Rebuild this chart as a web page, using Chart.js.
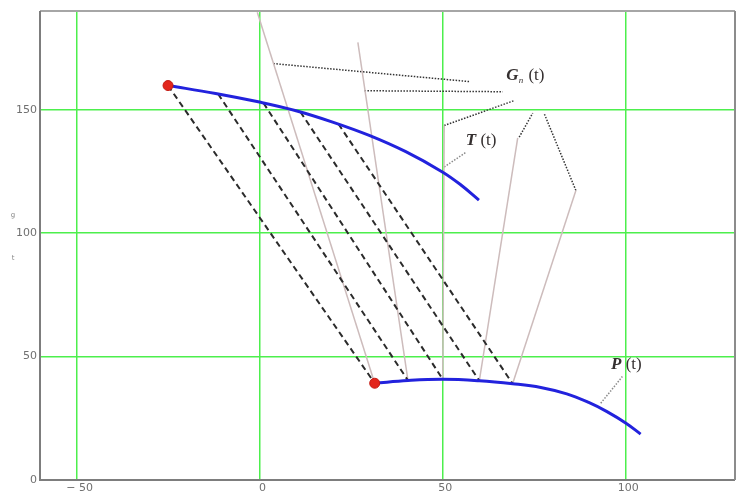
<!DOCTYPE html>
<html><head><meta charset="utf-8">
<script src="https://cdn.jsdelivr.net/npm/chart.js@4"></script>
<style>html,body{margin:0;padding:0;background:#fff}#wrap{width:741px;height:500px}</style>
</head><body><div id="wrap"><canvas id="c" width="741" height="500"></canvas></div>
<script>
// ---- data ----
const X_TICKS = [-50, 0, 50, 100];
const X_TICK_LABELS = ["\u2212 50", "0", "50", "100"];
const Y_TICKS = [0, 50, 100, 150];
const Y_TICK_LABELS = ["0", "50", "100", "150"];

// T(t) curve
const T_X = [-25, -12, 0, 10, 20, 30, 40, 50, 55, 60];
const T_Y = [159.8, 156.6, 153.1, 149.6, 145.0, 139.6, 133.0, 124.8, 119.6, 113.4];
// P(t) curve
const P_X = [31.5, 40.6, 50.1, 60.1, 69.2, 76.9, 84, 90, 95, 100.1, 104.2];
const P_Y = [39.2, 40.3, 40.8, 40.2, 39.0, 37.5, 34.9, 31.4, 27.7, 23.1, 18.6];

// dashed connectors T -> P
const DASH_START_X = [-25, -11.3, 1.1, 11.2, 21.6];
const DASH_START_Y = [159.8, 156.4, 152.7, 149.1, 144.2];
const DASH_END_X = [31.5, 40.6, 50.1, 60.1, 69.2];
const DASH_END_Y = [39.2, 40.3, 40.8, 40.2, 39.0];

// G_n(t) lines (from P points upward)
const G_TOP_X = [-0.6, 26.9, 50.5, 70.6, 86.5];
const G_TOP_Y = [189.5, 177.3, 143.6, 138.6, 117.3];

// dotted leader lines for G_n(t) label
const LG_FROM_X = [3.8, 28.7, 50.5, 71.0, 86.5];
const LG_FROM_Y = [168.7, 157.7, 143.6, 138.9, 117.3];
const LG_TO_X = [57.4, 66.5, 69.6, 74.7, 77.8];
const LG_TO_Y = [161.4, 157.3, 153.7, 148.6, 148.6];
// leaders for T(t) and P(t)
const LT_X = [50.5, 56.5], LT_Y = [126.8, 132.8];
const LP_X = [93.3, 99.2], LP_Y = [31.1, 41.9];

// red start points
const DOT_X = [-25, 31.5];
const DOT_Y = [159.8, 39.2];

// label anchors (centres)
const LABEL_G = [72.7, 163.9];
const LABEL_T = [60.6, 137.6];
const LABEL_P = [100.3, 46.6];

// ---- build ----
const pts = (xs, ys) => xs.map((x, i) => ({x, y: ys[i]}));
const datasets = [];
datasets.push({data: pts(DOT_X, DOT_Y), showLine: false, pointRadius: 5, pointHoverRadius: 5,
  backgroundColor: '#e3261c', borderColor: '#c41a12', borderWidth: 1, order: 0});
datasets.push({data: pts(T_X, T_Y), showLine: true, borderColor: '#2222dd', borderWidth: 3,
  pointRadius: 0, tension: 0.4, order: 1});
datasets.push({data: pts(P_X, P_Y), showLine: true, borderColor: '#2222dd', borderWidth: 3,
  pointRadius: 0, tension: 0.4, order: 1});
for (let i = 0; i < DASH_START_X.length; i++) {
  datasets.push({data: [{x: DASH_START_X[i], y: DASH_START_Y[i]}, {x: DASH_END_X[i], y: DASH_END_Y[i]}],
    showLine: true, borderColor: '#2b2b2b', borderWidth: 2, borderDash: [6, 4], pointRadius: 0, order: 2});
}
for (let i = 0; i < G_TOP_X.length; i++) {
  datasets.push({data: [{x: DASH_END_X[i], y: DASH_END_Y[i]}, {x: G_TOP_X[i], y: G_TOP_Y[i]}],
    showLine: true, borderColor: '#cdbcbc', borderWidth: 1.5, pointRadius: 0, order: 3});
}
for (let i = 0; i < LG_FROM_X.length; i++) {
  datasets.push({data: [{x: LG_FROM_X[i], y: LG_FROM_Y[i]}, {x: LG_TO_X[i], y: LG_TO_Y[i]}],
    showLine: true, borderColor: '#333', borderWidth: 1.5, borderDash: [1.5, 1.5], pointRadius: 0, order: 4});
}
datasets.push({data: pts(LT_X, LT_Y), showLine: true, borderColor: '#8a8a8a', borderWidth: 1.5,
  borderDash: [1.5, 1.5], pointRadius: 0, order: 4});
datasets.push({data: pts(LP_X, LP_Y), showLine: true, borderColor: '#8a8a8a', borderWidth: 1.5,
  borderDash: [1.5, 1.5], pointRadius: 0, order: 4});

const framePlugin = {
  id: 'frame',
  afterDraw(chart) {
    const {ctx, chartArea: a} = chart;
    ctx.save();
    ctx.lineWidth = 2;
    ctx.strokeStyle = '#a6a6a6';
    ctx.beginPath(); ctx.moveTo(a.left, a.top); ctx.lineTo(a.right, a.top); ctx.stroke();
    ctx.strokeStyle = '#7d7d7d';
    ctx.beginPath(); ctx.moveTo(a.left, a.top); ctx.lineTo(a.left, a.bottom); ctx.lineTo(a.right, a.bottom); ctx.stroke();
    ctx.strokeStyle = '#8c8c8c';
    ctx.beginPath(); ctx.moveTo(a.right, a.top); ctx.lineTo(a.right, a.bottom); ctx.stroke();
    // tiny axis names
    ctx.fillStyle = '#8a8a8a';
    ctx.font = '7px "DejaVu Sans"';
    ctx.textAlign = 'center'; ctx.textBaseline = 'middle';
    ctx.fillText('g', 13, 215);
    ctx.fillText('t', 13, 258);
    ctx.restore();
  }
};

function drawLabel(ctx, cx, cy, main, sub) {
  const f1 = 'bold italic 17px "Liberation Serif"';
  const f2 = 'italic 9px "Liberation Serif"';
  const f3 = '17px "Liberation Serif"';
  ctx.font = f1; const w1 = ctx.measureText(main).width;
  ctx.font = f2; const w2 = sub ? ctx.measureText(sub).width + 1 : 0;
  ctx.font = f3; const w3 = ctx.measureText(' (t)').width;
  let x = cx - (w1 + w2 + w3) / 2;
  ctx.textAlign = 'left'; ctx.textBaseline = 'middle';
  ctx.font = f1; ctx.fillText(main, x, cy); x += w1;
  if (sub) { ctx.font = f2; ctx.fillText(sub, x, cy + 5); x += w2; }
  ctx.font = f3; ctx.fillText(' (t)', x, cy);
}

const labelPlugin = {
  id: 'labels',
  afterDatasetsDraw(chart) {
    const {ctx, scales: {x, y}} = chart;
    ctx.save();
    ctx.fillStyle = '#353030';
    drawLabel(ctx, x.getPixelForValue(LABEL_G[0]), y.getPixelForValue(LABEL_G[1]), 'G', 'n');
    drawLabel(ctx, x.getPixelForValue(LABEL_T[0]), y.getPixelForValue(LABEL_T[1]), 'T', '');
    drawLabel(ctx, x.getPixelForValue(LABEL_P[0]), y.getPixelForValue(LABEL_P[1]), 'P', '');
    ctx.restore();
  }
};

new Chart(document.getElementById('c'), {
  type: 'scatter',
  data: {datasets},
  options: {
    responsive: false,
    animation: false,
    devicePixelRatio: 1,
    layout: {padding: {top: 11, right: 5, left: 0, bottom: 0}},
    plugins: {legend: {display: false}, tooltip: {enabled: false}},
    scales: {
      x: {
        type: 'linear', min: -60, max: 130,
        afterBuildTicks: s => { s.ticks = X_TICKS.map(v => ({value: v})); },
        afterFit: s => { s.height = 20; },
        ticks: {
          callback: v => X_TICK_LABELS[X_TICKS.indexOf(v)],
          color: '#707070', font: {family: 'DejaVu Sans', size: 11},
          padding: 2, maxRotation: 0, autoSkip: false, labelOffset: 3
        },
        grid: {color: '#4def4d', lineWidth: 1.5, drawTicks: false},
        border: {display: false}
      },
      y: {
        type: 'linear', min: 0, max: 190,
        afterBuildTicks: s => { s.ticks = Y_TICKS.map(v => ({value: v})); },
        afterFit: s => { s.width = 40; },
        ticks: {
          callback: v => Y_TICK_LABELS[Y_TICKS.indexOf(v)],
          color: '#707070', font: {family: 'DejaVu Sans', size: 11},
          padding: 3, autoSkip: false
        },
        grid: {color: ctx => ctx.tick && ctx.tick.value === 0 ? 'rgba(0,0,0,0)' : '#4def4d', lineWidth: 1.5, drawTicks: false},
        border: {display: false}
      }
    }
  },
  plugins: [framePlugin, labelPlugin]
});
</script></body></html>
